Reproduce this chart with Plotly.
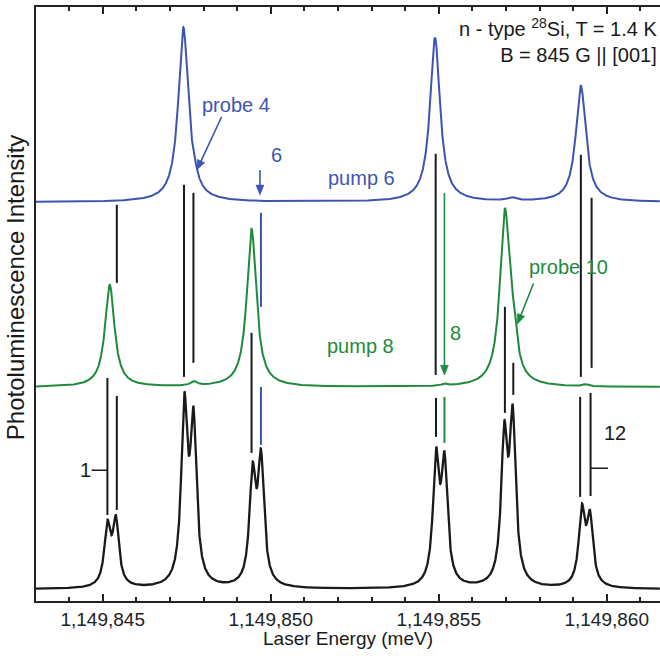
import numpy as np
import plotly.graph_objects as go

# Energies are given as offsets (meV) from 1,149,800 meV
E0 = 1149800.0

# Reference spectrum (no pump): resolved doublets of the 12 transitions
black_centers = [45.14, 45.39, 47.43, 47.70, 49.46, 49.71, 54.92, 55.17, 56.95, 57.20, 59.26, 59.50]
black_amps = [58, 64, 174, 157, 106, 122, 122, 117, 141, 161, 73, 66]
black_hwhm = [0.11] * 12
black_base = 11.7

# "pump 8" spectrum
green_centers = [45.21, 47.72, 49.43, 55.17, 56.97, 57.22, 59.38]
green_amps = [102, 4, 158, 2, 172, 30, 2]
green_hwhm = [0.17, 0.12, 0.17, 0.08, 0.178, 0.13, 0.10]
green_base = 213.7

# "pump 6" spectrum
blue_centers = [47.40, 47.72, 54.89, 57.17, 59.23]
blue_amps = [174, 6, 164, 3, 116]
blue_hwhm = [0.18, 0.12, 0.18, 0.15, 0.18]
blue_base = 398.7

BLACK = "#1a1a1a"
GREEN = "#1f8a3c"
BLUE = "#3d55b2"
FONT = "Liberation Sans, Arial, sans-serif"

x_min, x_max = 43.015, 61.586
energy = np.arange(x_min, x_max, 0.004)

# plot-area size in pixels, used to shape arrowheads
PX_W, PX_H = 624.0, 593.7
px_per_mev = PX_W / (x_max - x_min)


def spectrum(centers, amps, widths, base):
    y = np.full_like(energy, base)
    for c, a, w in zip(centers, amps, widths):
        y += a / (1.0 + ((energy - c) / w) ** 2)
    return y


fig = go.Figure()
for centers, amps, widths, base, col, lw in [
    (black_centers, black_amps, black_hwhm, black_base, BLACK, 2.3),
    (green_centers, green_amps, green_hwhm, green_base, GREEN, 2),
    (blue_centers, blue_amps, blue_hwhm, blue_base, BLUE, 2),
]:
    fig.add_trace(go.Scatter(
        x=E0 + energy, y=spectrum(centers, amps, widths, base),
        mode="lines", line=dict(color=col, width=lw), hoverinfo="skip",
        showlegend=False))

# Transition marker segments: (energy, y bottom, y top, colour)
markers = [
    (45.42, 318, 396, BLACK),
    (47.42, 224, 416, BLACK),
    (47.70, 238, 408, BLACK),
    (49.71, 294, 388, BLUE),
    (49.43, 148, 268, BLACK),
    (49.71, 156, 214, BLUE),
    (45.14, 86, 223, BLACK),
    (45.42, 91, 205, BLACK),
    (54.91, 226, 447, BLACK),
    (59.23, 224, 446, BLACK),
    (59.55, 233, 403, BLACK),
    (56.97, 188, 294, BLACK),
    (57.22, 206, 238, BLACK),
    (54.92, 164, 203, BLACK),
    (55.17, 158, 204, GREEN),
    (59.21, 104, 204, BLACK),
    (59.52, 105, 208, BLACK),
]
shapes = []
for e, y0, y1, col in markers:
    shapes.append(dict(type="line", xref="x", yref="y", x0=E0 + e, x1=E0 + e,
                       y0=y0, y1=y1, line=dict(color=col, width=2)))
# short leader ticks for the labels "1" and "12"
shapes.append(dict(type="line", xref="x", yref="y", x0=E0 + 44.67, x1=E0 + 45.14,
                   y0=130.7, y1=130.7, line=dict(color=BLACK, width=1.5)))
shapes.append(dict(type="line", xref="x", yref="y", x0=E0 + 59.53, x1=E0 + 60.04,
                   y0=132.7, y1=132.7, line=dict(color=BLACK, width=1.5)))


def arrow(e_tail, y_tail, e_head, y_head, col, head_len=10.0, head_w=8.0):
    """Straight arrow drawn as a line plus a filled triangular head."""
    tx, ty = (e_tail - x_min) * px_per_mev, y_tail
    hx, hy = (e_head - x_min) * px_per_mev, y_head
    dx, dy = hx - tx, hy - ty
    n = (dx * dx + dy * dy) ** 0.5
    ux, uy = dx / n, dy / n
    bx, by = hx - ux * head_len, hy - uy * head_len
    px, py = -uy * head_w / 2, ux * head_w / 2

    def d(xp, yp):
        return f"{E0 + x_min + xp / px_per_mev:.5f},{yp:.3f}"

    shapes.append(dict(type="line", xref="x", yref="y",
                       x0=E0 + e_tail, y0=y_tail,
                       x1=E0 + x_min + (bx + ux * 2) / px_per_mev, y1=by + uy * 2,
                       line=dict(color=col, width=1.6)))
    shapes.append(dict(type="path", xref="x", yref="y",
                       path=f"M {d(hx, hy)} L {d(bx + px, by + py)} L {d(bx - px, by - py)} Z",
                       fillcolor=col, line=dict(color=col, width=0.5)))


arrow(48.54, 484.0, 47.80, 430.7, BLUE)     # probe 4
arrow(49.68, 430.7, 49.68, 405.7, BLUE)     # 6
arrow(55.17, 407.7, 55.17, 225.7, GREEN)    # 8
arrow(57.82, 317.4, 57.34, 276.7, GREEN)    # probe 10

annotations = []


def label(text, e, y, col, size=19):
    annotations.append(dict(x=E0 + e, y=y, xref="x", yref="y", text=text,
                            showarrow=False, font=dict(family=FONT, size=size, color=col),
                            xanchor="center", yanchor="middle"))


label("probe 4", 48.96, 495.7, BLUE, 20)
label("6", 50.18, 445.7, BLUE, 20)
label("pump 6", 52.69, 422.7, BLUE, 20)
label("pump 8", 52.66, 254.7, GREEN, 20)
label("8", 55.51, 267.7, GREEN, 20)
label("probe 10", 58.85, 333.7, GREEN, 20)
label("1", 44.48, 130.7, BLACK, 20)
label("12", 60.26, 167.7, BLACK, 20)

# header text, top right
annotations.append(dict(x=1, y=1, xref="paper", yref="paper", xanchor="right",
                        yanchor="top", xshift=-1, yshift=-6, showarrow=False, align="right",
                        text="n - type <sup>28</sup>Si, T = 1.4 K<br>B = 845 G || [001]",
                        font=dict(family=FONT, size=20, color=BLACK)))
# axis titles
annotations.append(dict(x=0.5, y=0, xref="paper", yref="paper", xanchor="center",
                        yanchor="middle", yshift=-37.6, showarrow=False,
                        text="Laser Energy (meV)", font=dict(family=FONT, size=19, color=BLACK)))
annotations.append(dict(x=0, y=(600.7 - 287) / PX_H, xref="paper", yref="paper",
                        xanchor="center", yanchor="middle", xshift=-21, showarrow=False,
                        textangle=-90, text="Photoluminescence Intensity",
                        font=dict(family=FONT, size=24, color=BLACK)))

fig.update_layout(
    width=660, height=656,
    margin=dict(l=36, r=0, t=7, b=55),
    paper_bgcolor="white", plot_bgcolor="white",
    shapes=shapes, annotations=annotations,
    xaxis=dict(range=[E0 + x_min, E0 + x_max], tick0=E0 + 45, dtick=5,
               tickformat=",d", ticks="inside", ticklen=7, tickwidth=1.5,
               tickcolor="#222", showline=True, linewidth=2, linecolor="#222",
               mirror="allticks", showgrid=False, zeroline=False,
               tickfont=dict(family=FONT, size=19, color="#222"),
               minor=dict(dtick=1, ticks="inside", ticklen=4, tickwidth=1.5,
                          tickcolor="#222", showgrid=False)),
    yaxis=dict(range=[0, PX_H], showticklabels=False, ticks="", showgrid=False,
               zeroline=False, showline=True, linewidth=2, linecolor="#222",
               mirror=False),
)

fig.write_html("out.html")
